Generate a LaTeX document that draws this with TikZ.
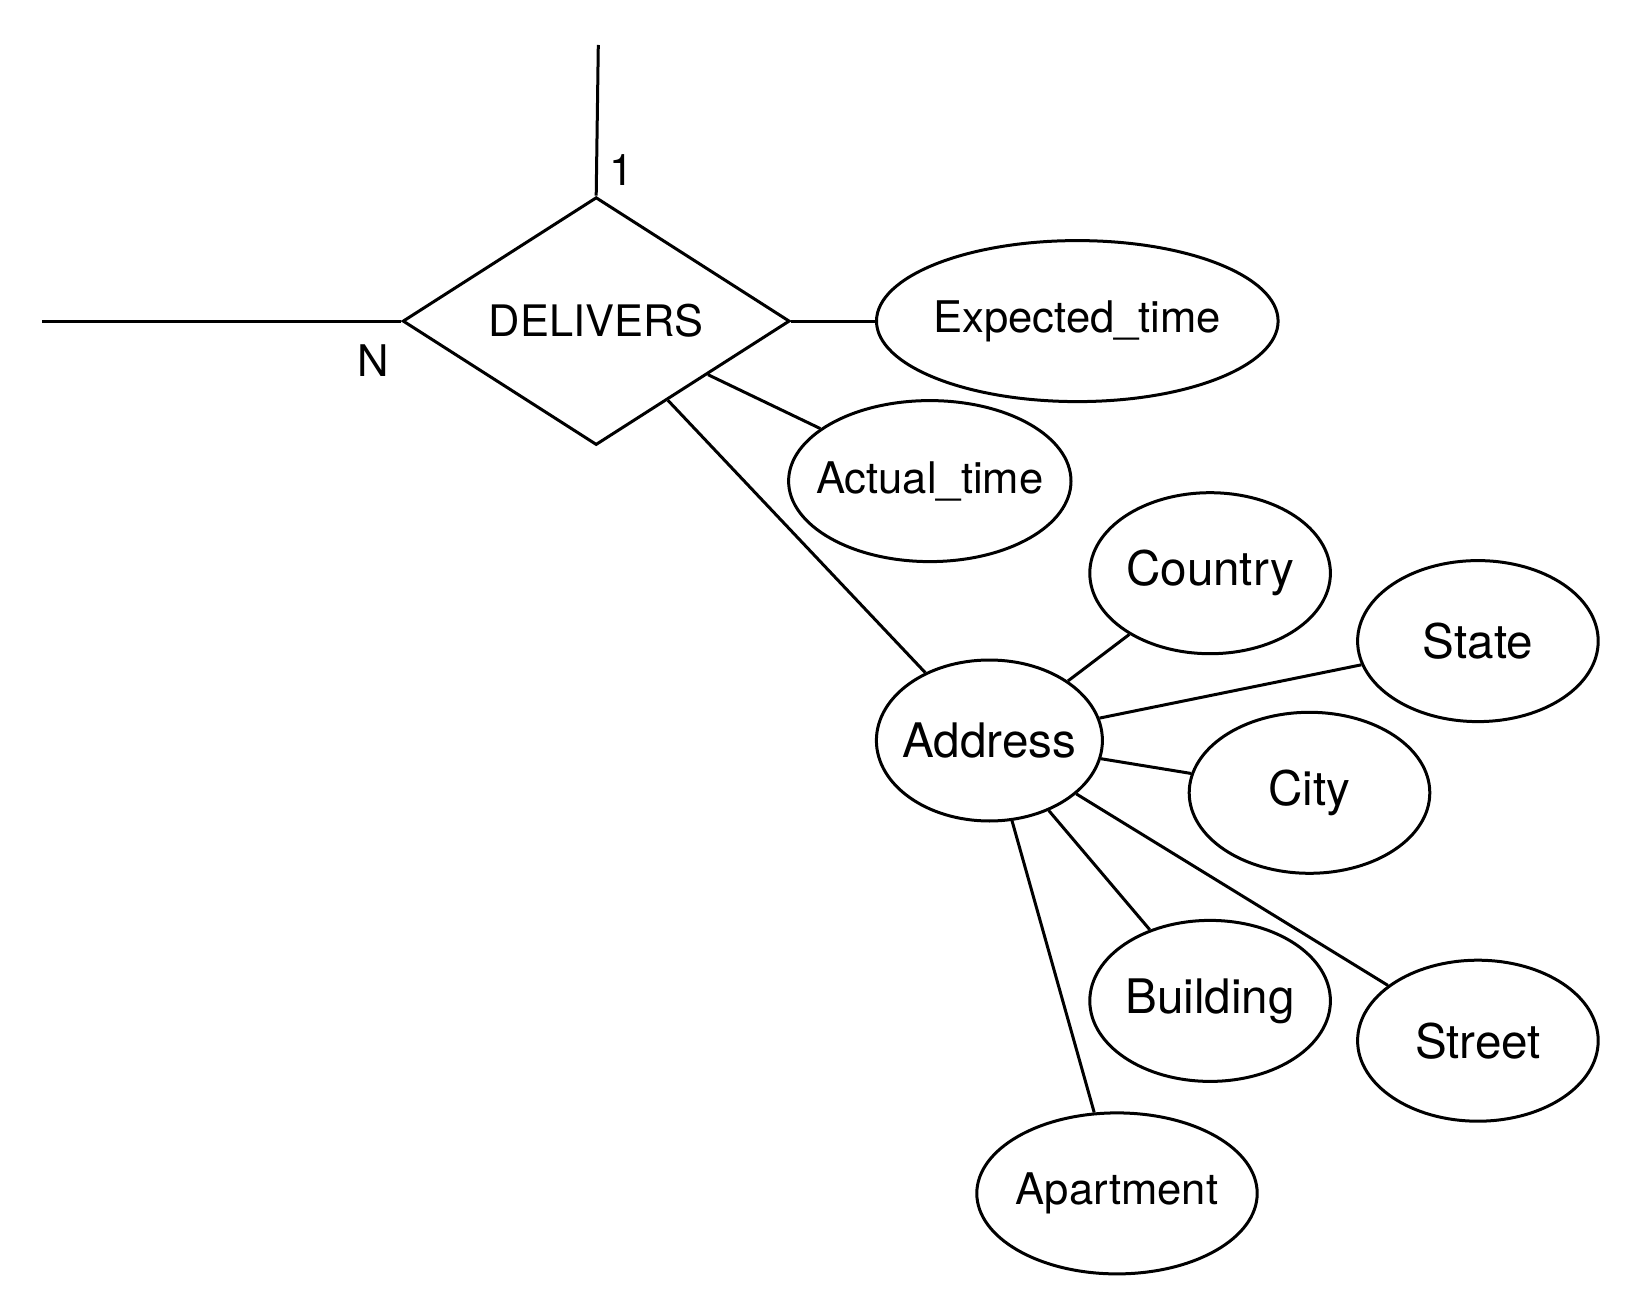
\documentclass[tikz,border=0pt]{standalone}
\usepackage{fontspec}
\setmainfont{TeX Gyre Heros}
\usetikzlibrary{shapes.geometric,calc}
\begin{document}
\begin{tikzpicture}[x=0.5pt,y=-0.5pt,
  conn/.style={line width=1.5pt},
  smallfont/.style={font=\fontsize{21.8}{26}\selectfont},
  bigfont/.style={font=\fontsize{23.8}{28}\selectfont},
  attr/.style={ellipse,draw,line width=1.5pt,inner sep=0pt,minimum height=80.5pt,label={[smallfont]center:#1}},
  attrbig/.style={ellipse,draw,line width=1.5pt,inner sep=0pt,minimum height=80.5pt,label={[bigfont]center:#1}},
  rel/.style={diamond,draw,line width=1.5pt,inner sep=0pt,minimum width=193.5pt,minimum height=119.8pt,font=\fontsize{21.7}{26}\selectfont},
  lbl/.style={font=\fontsize{21.8}{26}\selectfont,inner sep=0pt}]
\useasboundingbox (0,0) rectangle (1640,1316);
\node[rel] (d) at (596.2,321.1) {DELIVERS};
\coordinate (topend) at (598.3,45);
\coordinate (leftend) at (41.8,321.1);
\node[lbl] (one) at (621.3,170.5) {1};
\node[lbl] (n) at (373.4,360.8) {N};
\node[attr={Expected\_time},minimum width=200.8pt] (exp) at (1077.3,321.1) {};
\node[attr={Actual\_time},minimum width=141.2pt] (act) at (929.8,481.1) {};
\node[attrbig={Address},minimum width=113pt] (addr) at (989.4,740.5) {};
\node[attrbig={Country},minimum width=120.3pt] (country) at (1210.1,573.2) {};
\node[attrbig={State},minimum width=120.3pt] (state) at (1477.9,641.1) {};
\node[attrbig={City},minimum width=120.3pt] (city) at (1309.5,792.8) {};
\node[attrbig={Building},minimum width=120.3pt] (building) at (1210.1,1000.9) {};
\node[attrbig={Street},minimum width=120.3pt] (street) at (1477.9,1040.7) {};
\node[attr={Apartment},minimum width=140.2pt] (apt) at (1117.0,1193.4) {};
\coordinate (dact) at ($(d.east)!0.427!(d.south)$);
\coordinate (daddr) at ($(d.east)!0.632!(d.south)$);
\draw[conn] (d.north) -- (topend);
\draw[conn] (d.west) -- (leftend);
\draw[conn] (d.east) -- (exp.west);
\draw[conn] (dact) -- (act);
\draw[conn] (daddr) -- (addr);
\draw[conn] (addr) -- (country);
\draw[conn] (addr) -- (state);
\draw[conn] (addr) -- (city);
\draw[conn] (addr) -- (building);
\draw[conn] (addr) -- (street);
\draw[conn] (addr) -- (apt);
\end{tikzpicture}
\end{document}
